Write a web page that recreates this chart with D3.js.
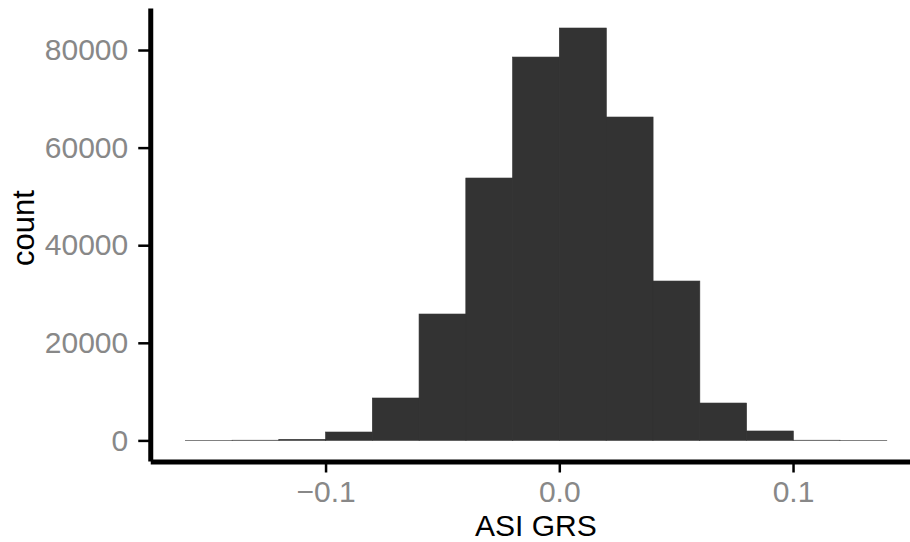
<!DOCTYPE html>
<html>
<head>
<meta charset="utf-8">
<script src="https://cdn.jsdelivr.net/npm/d3@7"></script>
<style>
    body { margin: 0; background: #fff; }
    text { font-family: "Liberation Sans", Arial, Helvetica, sans-serif; }
</style>
</head>
<body>
<div id="chart"></div>
<script>

// histogram bins (left edge, right edge) and counts
var binStart = [-0.16, -0.14, -0.12, -0.10, -0.08, -0.06, -0.04, -0.02, 0.00, 0.02, 0.04, 0.06, 0.08, 0.10, 0.12];
var binEnd   = [-0.14, -0.12, -0.10, -0.08, -0.06, -0.04, -0.02, 0.00, 0.02, 0.04, 0.06, 0.08, 0.10, 0.12, 0.14];
var counts   = [10, 40, 220, 1720, 8690, 25900, 53770, 78560, 84510, 66270, 32660, 7660, 1930, 40, 10];

var xTicks = [-0.1, 0.0, 0.1];
var yTicks = [0, 20000, 40000, 60000, 80000];

var width = 910, height = 542;

var svg = d3.select("#chart").append("svg")
    .attr("width", width)
    .attr("height", height);

// panel runs a bit past the right edge, like the original
var xa = d3.scaleLinear()
    .domain([-0.175, 0.155])
    .range([150.25, 921.6]);

var ya = d3.scaleLinear()
    .domain([-4220, 88610])
    .range([461, 8]);

var bins = binStart.map(function(d, i) {
    return {x0: d, x1: binEnd[i], n: counts[i]};
});

//bars
svg.append("g").selectAll("rect")
    .data(bins).enter().append("rect")
    .attr("x", function(d) { return xa(d.x0); })
    .attr("width", function(d) { return xa(d.x1) - xa(d.x0) + 0.3; })
    .attr("y", function(d) { return ya(d.n); })
    .attr("height", function(d) { return ya(0) - ya(d.n); })
    .style("fill", "#333333")
    .style("stroke", "#333333")
    .style("stroke-width", 0.6);

//y axis
var yAxis = d3.axisLeft(ya)
    .tickValues(yTicks)
    .tickFormat(d3.format("d"))
    .tickSizeOuter(0)
    .tickSizeInner(12)
    .tickPadding(10);

var gy = svg.append("g")
    .attr("transform", "translate(" + xa(-0.175) + ",0)")
    .call(yAxis);

//x axis
var xAxis = d3.axisBottom(xa)
    .tickValues(xTicks)
    .tickFormat(d3.format(".1f"))
    .tickSizeOuter(0)
    .tickSizeInner(11)
    .tickPadding(8);

var gx = svg.append("g")
    .attr("transform", "translate(0," + 461.5 + ")")
    .call(xAxis);

[gx, gy].forEach(function(g) {
    g.select(".domain")
        .attr("stroke", "#000")
        .attr("stroke-width", 5);
    g.selectAll(".tick line")
        .attr("stroke", "#000")
        .attr("stroke-width", 2.5);
    g.selectAll(".tick text")
        .attr("fill", "#888888")
        .style("font-size", "30px");
});

// axis titles
svg.append("text")
    .attr("x", xa(-0.01))
    .attr("y", 536)
    .style("text-anchor", "middle")
    .style("font-size", "30px")
    .style("fill", "#000")
    .text("ASI GRS");

svg.append("text")
    .attr("transform", "translate(34," + ya(43500) + ") rotate(-90)")
    .style("text-anchor", "middle")
    .style("font-size", "31px")
    .style("fill", "#000")
    .text("count");

</script>
</body>
</html>
